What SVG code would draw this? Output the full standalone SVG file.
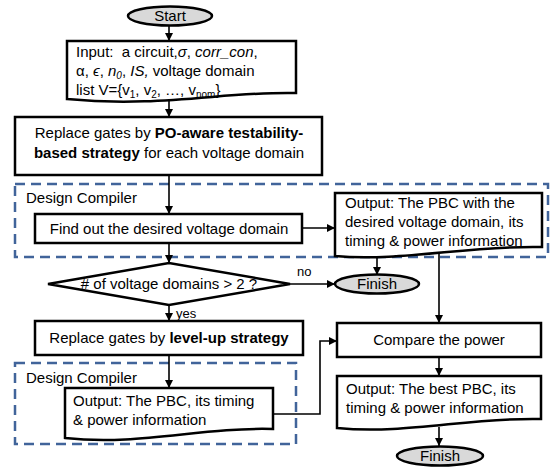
<svg xmlns="http://www.w3.org/2000/svg" width="554" height="470" viewBox="0 0 554 470">
<style>
text{font-family:"Liberation Sans",Arial,sans-serif;font-size:15px;fill:#000}
.c{text-anchor:middle}
.b{font-weight:bold}
.i{font-style:italic}
.s{font-size:10px}
.sm{font-size:13px}
.box{fill:#fff;stroke:#000;stroke-width:2.5}
.term{fill:#d9d9d9;stroke:#000;stroke-width:2.5}
.dash{fill:none;stroke:#41649a;stroke-width:2.5;stroke-dasharray:10 6}
.ln{fill:none;stroke:#000;stroke-width:1.6}
</style>
<defs>
<marker id="ah" markerUnits="userSpaceOnUse" markerWidth="9" markerHeight="8" refX="8" refY="4" orient="auto">
<path d="M0,0 L8,4 L0,8 z" fill="#000"/>
</marker>
</defs>
<g id="dc1"><rect class="dash" x="15" y="184" width="533" height="73"/><text x="26" y="203">Design Compiler</text></g>
<g id="dc2"><rect class="dash" x="15" y="363" width="281" height="81"/><text x="26" y="383">Design Compiler</text></g>
<g id="connectors">
<line class="ln" x1="169" y1="25" x2="169" y2="41" marker-end="url(#ah)"/>
<line class="ln" x1="169" y1="101" x2="169" y2="117" marker-end="url(#ah)"/>
<line class="ln" x1="169" y1="175" x2="169" y2="214" marker-end="url(#ah)"/>
<line class="ln" x1="302" y1="228" x2="335" y2="228" marker-end="url(#ah)"/>
<line class="ln" x1="169" y1="243" x2="169" y2="263" marker-end="url(#ah)"/>
<line class="ln" x1="290" y1="284" x2="335" y2="284" marker-end="url(#ah)"/>
<line class="ln" x1="377" y1="257" x2="377" y2="275" marker-end="url(#ah)"/>
<line class="ln" x1="439" y1="251" x2="439" y2="323" marker-end="url(#ah)"/>
<line class="ln" x1="169" y1="305" x2="169" y2="321" marker-end="url(#ah)"/>
<line class="ln" x1="169" y1="355" x2="169" y2="388" marker-end="url(#ah)"/>
<polyline class="ln" points="273,414 320,414 320,341 337,341" marker-end="url(#ah)"/>
<line class="ln" x1="439" y1="357" x2="439" y2="376" marker-end="url(#ah)"/>
<line class="ln" x1="439" y1="427" x2="439" y2="446" marker-end="url(#ah)"/>
<text class="sm" x="297" y="276">no</text>
<text class="sm" x="176" y="318">yes</text>
</g>
<g id="start"><ellipse class="term" cx="170" cy="16" rx="42" ry="9.5"/><text class="c" x="170" y="21">Start</text></g>
<g id="input">
<path class="box" d="M67,41 H296 V93 C228,91 160,108 67,99 Z"/>
<text x="76" y="57" xml:space="preserve">Input:  a circuit,<tspan class="i">σ</tspan>, <tspan class="i">corr_con</tspan>,</text>
<text x="76" y="76">α, <tspan class="i">ϵ</tspan>, <tspan class="i">n</tspan><tspan class="i s" dy="3">0</tspan><tspan dy="-3">, </tspan><tspan class="i">IS,</tspan> voltage domain</text>
<text x="76" y="95">list V={v<tspan class="s" dy="3">1</tspan><tspan dy="-3">, v</tspan><tspan class="s" dy="3">2</tspan><tspan dy="-3">, …, v</tspan><tspan class="s" dy="3">nom</tspan><tspan dy="-3">}</tspan></text>
</g>
<g id="replace1"><rect class="box" x="15" y="117" width="307" height="58"/>
<text class="c" x="169" y="138">Replace gates by <tspan class="b">PO-aware testability-</tspan></text>
<text class="c" x="169" y="158"><tspan class="b">based strategy</tspan> for each voltage domain</text></g>
<g id="find"><rect class="box" x="35" y="214" width="267" height="29"/><text class="c" x="169" y="234">Find out the desired voltage domain</text></g>
<g id="out1"><path class="box" d="M335,193 H542 V247 C470,245 400,262 335,256 Z"/>
<text x="345" y="208">Output: The PBC with the</text>
<text x="345" y="227">desired voltage domain, its</text>
<text x="345" y="246">timing &amp; power information</text></g>
<g id="decision"><path class="box" d="M48,284 L169,263 L290,284 L169,305 Z"/><text class="c" x="169" y="289"># of voltage domains &gt; 2 ?</text></g>
<g id="finish1"><ellipse class="term" cx="377" cy="284" rx="42" ry="9.5"/><text class="c" x="377" y="289">Finish</text></g>
<g id="replace2"><rect class="box" x="35" y="321" width="268" height="34"/><text class="c" x="169" y="343">Replace gates by <tspan class="b">level-up strategy</tspan></text></g>
<g id="out2"><path class="box" d="M65,388 H273 V429 C200,427 140,446 65,438 Z"/>
<text x="73" y="406">Output: The PBC, its timing</text>
<text x="73" y="425">&amp; power information</text></g>
<g id="compare"><rect class="box" x="337" y="323" width="204" height="34"/><text class="c" x="439" y="345">Compare the power</text></g>
<g id="out3"><path class="box" d="M337,376 H541 V419 C470,417 405,435 337,428 Z"/>
<text x="346" y="394">Output: The best PBC, its</text>
<text x="346" y="413">timing &amp; power information</text></g>
<g id="finish2"><ellipse class="term" cx="440" cy="456" rx="43" ry="9.5"/><text class="c" x="440" y="461">Finish</text></g>
</svg>
